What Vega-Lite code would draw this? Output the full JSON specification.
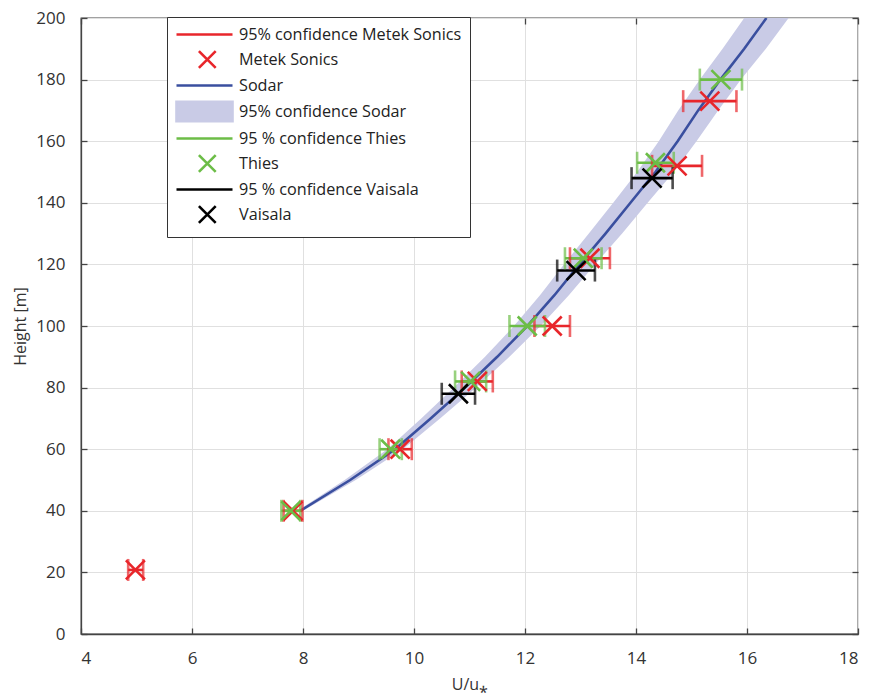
{
  "$schema": "https://vega.github.io/schema/vega-lite/v6.json",
  "width": 777,
  "height": 616,
  "autosize": {"type": "none"},
  "padding": {"left": 81, "top": 18, "right": 12, "bottom": 64},
  "background": "white",
  "config": {
    "font": "Open Sans",
    "view": {"stroke": "#444444", "strokeWidth": 1.3},
    "axis": {
      "domainColor": "#444444",
      "domainWidth": 1.3,
      "gridColor": "#e0e0e0",
      "gridWidth": 1,
      "tickColor": "#444444",
      "tickSize": -6,
      "tickWidth": 1.3,
      "labelFont": "Open Sans",
      "labelFontSize": 17,
      "labelColor": "#333333",
      "titleFont": "Open Sans",
      "titleFontSize": 16,
      "titleFontWeight": "normal",
      "titleColor": "#333333"
    },
    "legend": {
      "orient": "none", "legendX": 86, "legendY": -1,
      "direction": "vertical",
      "strokeColor": "#333333", "fillColor": "white", "padding": 8, "cornerRadius": 0,
      "symbolSize": 256, "symbolStrokeWidth": 2.6, "symbolOpacity": 1,
      "labelFont": "Open Sans", "labelFontSize": 16.2, "labelColor": "#222222",
      "labelOffset": 45, "rowPadding": 2, "labelLimit": 400
    }
  },
  "datasets": {
    "sodar": [
      {"h": 40, "u": 7.95, "lo": 7.9, "hi": 8.0},
      {"h": 50, "u": 8.85, "lo": 8.75, "hi": 8.95},
      {"h": 60, "u": 9.66, "lo": 9.52, "hi": 9.8},
      {"h": 70, "u": 10.3, "lo": 10.13, "hi": 10.47},
      {"h": 80, "u": 10.92, "lo": 10.72, "hi": 11.12},
      {"h": 90, "u": 11.5, "lo": 11.28, "hi": 11.72},
      {"h": 100, "u": 12.04, "lo": 11.8, "hi": 12.28},
      {"h": 110, "u": 12.53, "lo": 12.27, "hi": 12.79},
      {"h": 120, "u": 12.98, "lo": 12.7, "hi": 13.26},
      {"h": 130, "u": 13.45, "lo": 13.15, "hi": 13.75},
      {"h": 140, "u": 13.9, "lo": 13.59, "hi": 14.21},
      {"h": 150, "u": 14.35, "lo": 14.02, "hi": 14.68},
      {"h": 160, "u": 14.75, "lo": 14.41, "hi": 15.09},
      {"h": 170, "u": 15.12, "lo": 14.76, "hi": 15.48},
      {"h": 180, "u": 15.52, "lo": 15.15, "hi": 15.89},
      {"h": 190, "u": 15.95, "lo": 15.56, "hi": 16.34},
      {"h": 200, "u": 16.35, "lo": 15.95, "hi": 16.75}
    ],
    "inst": [
      {"inst": "Metek Sonics", "h": 20.8, "u": 4.98, "lo": 4.85, "hi": 5.12},
      {"inst": "Metek Sonics", "h": 40, "u": 7.82, "lo": 7.65, "hi": 7.99},
      {"inst": "Metek Sonics", "h": 60, "u": 9.75, "lo": 9.54, "hi": 9.96},
      {"inst": "Metek Sonics", "h": 82, "u": 11.14, "lo": 10.86, "hi": 11.42},
      {"inst": "Metek Sonics", "h": 100, "u": 12.49, "lo": 12.17, "hi": 12.81},
      {"inst": "Metek Sonics", "h": 122, "u": 13.17, "lo": 12.81, "hi": 13.53},
      {"inst": "Metek Sonics", "h": 152, "u": 14.74, "lo": 14.29, "hi": 15.19},
      {"inst": "Metek Sonics", "h": 173, "u": 15.33, "lo": 14.85, "hi": 15.81},
      {"inst": "Thies", "h": 40, "u": 7.78, "lo": 7.61, "hi": 7.95},
      {"inst": "Thies", "h": 60, "u": 9.58, "lo": 9.38, "hi": 9.78},
      {"inst": "Thies", "h": 82, "u": 11.02, "lo": 10.74, "hi": 11.3},
      {"inst": "Thies", "h": 100, "u": 12.04, "lo": 11.72, "hi": 12.36},
      {"inst": "Thies", "h": 122, "u": 13.05, "lo": 12.72, "hi": 13.38},
      {"inst": "Thies", "h": 153, "u": 14.35, "lo": 14.02, "hi": 14.68},
      {"inst": "Thies", "h": 180, "u": 15.53, "lo": 15.15, "hi": 15.91},
      {"inst": "Vaisala", "h": 78, "u": 10.8, "lo": 10.5, "hi": 11.1},
      {"inst": "Vaisala", "h": 118, "u": 12.92, "lo": 12.58, "hi": 13.26},
      {"inst": "Vaisala", "h": 148, "u": 14.29, "lo": 13.92, "hi": 14.66}
    ],
    "legend": [
      {"label": "95% confidence Metek Sonics", "u": -10, "h": -10},
      {"label": "Metek Sonics", "u": -10, "h": -10},
      {"label": "Sodar", "u": -10, "h": -10},
      {"label": "95% confidence Sodar", "u": -10, "h": -10},
      {"label": "95 % confidence Thies", "u": -10, "h": -10},
      {"label": "Thies", "u": -10, "h": -10},
      {"label": "95 % confidence Vaisala", "u": -10, "h": -10},
      {"label": "Vaisala", "u": -10, "h": -10}
    ]
  },
  "resolve": {"axis": {"x": "independent", "y": "independent"}},
  "layer": [
    {
      "data": {"name": "sodar"},
      "mark": {"type": "area", "orient": "horizontal", "color": "#c9cbe6", "opacity": 1, "clip": true},
      "encoding": {
        "x": {"field": "lo", "type": "quantitative",
          "scale": {"domain": [4, 18], "nice": false, "zero": false},
          "axis": {"values": [4, 6, 8, 10, 12, 14, 16, 18], "format": "d", "title": "U/u⁎", "labelPadding": 22, "titlePadding": 10}},
        "x2": {"field": "hi"},
        "y": {"field": "h", "type": "quantitative",
          "scale": {"domain": [0, 200], "nice": false, "zero": false},
          "axis": {"values": [0, 20, 40, 60, 80, 100, 120, 140, 160, 180, 200], "format": "d", "title": "Height [m]", "labelPadding": 22, "titlePadding": 7}}
      }
    },
    {
      "data": {"name": "sodar"},
      "mark": {"type": "point", "opacity": 0},
      "encoding": {
        "x": {"field": "u", "type": "quantitative",
          "axis": {"orient": "top", "values": [4, 6, 8, 10, 12, 14, 16, 18], "labels": false, "grid": false, "domain": false, "title": null}},
        "y": {"field": "h", "type": "quantitative",
          "axis": {"orient": "right", "values": [0, 20, 40, 60, 80, 100, 120, 140, 160, 180, 200], "labels": false, "grid": false, "domain": false, "title": null}}
      }
    },
    {
      "data": {"name": "sodar"},
      "mark": {"type": "line", "color": "#3a4f9f", "strokeWidth": 2.6, "clip": true},
      "encoding": {
        "x": {"field": "u", "type": "quantitative", "axis": null},
        "y": {"field": "h", "type": "quantitative", "axis": null},
        "order": {"field": "h", "type": "quantitative"}
      }
    },
    {
      "data": {"name": "inst"},
      "layer": [
        {
          "mark": {"type": "rule", "strokeWidth": 2.6},
          "encoding": {
            "x": {"field": "lo", "type": "quantitative", "axis": null},
            "x2": {"field": "hi"},
            "y": {"field": "h", "type": "quantitative", "axis": null},
            "color": {"field": "inst", "type": "nominal",
              "scale": {"domain": ["Metek Sonics", "Thies", "Vaisala"], "range": ["#e8262b", "#6cbd47", "#000000"]},
              "legend": null}
          }
        },
        {
          "mark": {"type": "tick", "orient": "vertical", "size": 22, "thickness": 2.6},
          "encoding": {
            "x": {"field": "lo", "type": "quantitative", "axis": null},
            "y": {"field": "h", "type": "quantitative", "axis": null},
            "color": {"field": "inst", "type": "nominal", "legend": null}
          }
        },
        {
          "mark": {"type": "tick", "orient": "vertical", "size": 22, "thickness": 2.6},
          "encoding": {
            "x": {"field": "hi", "type": "quantitative", "axis": null},
            "y": {"field": "h", "type": "quantitative", "axis": null},
            "color": {"field": "inst", "type": "nominal", "legend": null}
          }
        },
        {
          "mark": {"type": "point", "shape": "M-1,-1L1,1M1,-1L-1,1", "filled": false, "size": 360, "strokeWidth": 2.6, "opacity": 1},
          "encoding": {
            "x": {"field": "u", "type": "quantitative", "axis": null},
            "y": {"field": "h", "type": "quantitative", "axis": null},
            "color": {"field": "inst", "type": "nominal", "legend": null}
          }
        }
      ]
    },
    {
      "data": {"name": "legend"},
      "mark": {"type": "point", "filled": true, "clip": true, "strokeWidth": 2.6, "opacity": 1},
      "encoding": {
        "x": {"field": "u", "type": "quantitative", "axis": null},
        "y": {"field": "h", "type": "quantitative", "axis": null},
        "stroke": {"field": "label", "type": "nominal",
          "scale": {"domain": ["95% confidence Metek Sonics", "Metek Sonics", "Sodar", "95% confidence Sodar", "95 % confidence Thies", "Thies", "95 % confidence Vaisala", "Vaisala"],
                    "range": ["#e8262b", "#e8262b", "#3a4f9f", "#c9cbe6", "#6cbd47", "#6cbd47", "#000000", "#000000"]},
          "legend": {"title": null}},
        "fill": {"field": "label", "type": "nominal",
          "scale": {"domain": ["95% confidence Metek Sonics", "Metek Sonics", "Sodar", "95% confidence Sodar", "95 % confidence Thies", "Thies", "95 % confidence Vaisala", "Vaisala"],
                    "range": ["transparent", "transparent", "transparent", "#c9cbe6", "transparent", "transparent", "transparent", "transparent"]},
          "legend": {"title": null}},
        "shape": {"field": "label", "type": "nominal",
          "scale": {"domain": ["95% confidence Metek Sonics", "Metek Sonics", "Sodar", "95% confidence Sodar", "95 % confidence Thies", "Thies", "95 % confidence Vaisala", "Vaisala"],
                    "range": ["M-1,0H6", "M1.8,-1.05L3.9,1.05M3.9,-1.05L1.8,1.05", "M-1,0H6", "M-1,-1.2H6V1.2H-1Z", "M-1,0H6", "M1.8,-1.05L3.9,1.05M3.9,-1.05L1.8,1.05", "M-1,0H6", "M1.8,-1.05L3.9,1.05M3.9,-1.05L1.8,1.05"]},
          "legend": {"title": null}}
      }
    }
  ]
}
